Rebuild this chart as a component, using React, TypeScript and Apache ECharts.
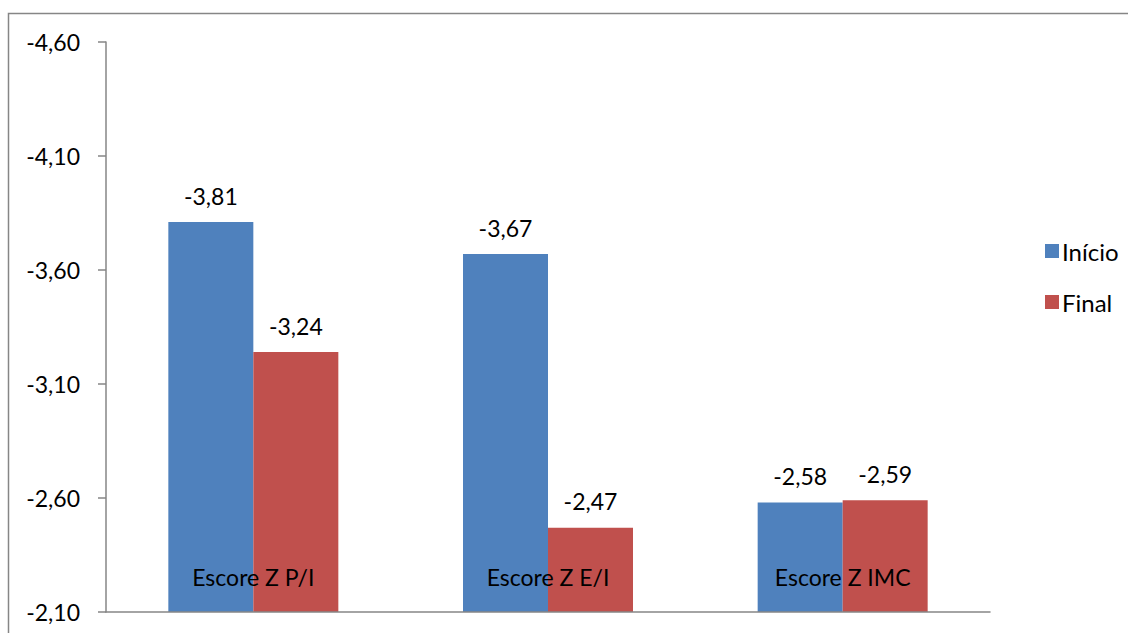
import React, { useEffect, useRef } from "react";
import * as echarts from "echarts";

const categories = ["Escore Z P/I", "Escore Z E/I", "Escore Z IMC"];
const inicio = [-3.81, -3.67, -2.58];
const final = [-3.24, -2.47, -2.59];
const seriesNames = ["Início", "Final"];
const yMin = -4.6;
const yMax = -2.1;
const yInterval = 0.5;

const FONT = "Lato";
const fmt = (v: number) => v.toFixed(2).replace(".", ",");

export default function App() {
  const ref = useRef<HTMLDivElement>(null);
  useEffect(() => {
    const chart = echarts.init(ref.current!, null, { renderer: "svg" });
    const barLabel = {
      show: true,
      position: "top",
      distance: 15,
      fontFamily: FONT,
      fontSize: 23,
      color: "#000",
      formatter: (p: any) => fmt(p.value),
    };
    chart.setOption({
      animation: false,
      backgroundColor: "#ffffff",
      textStyle: { fontFamily: FONT },
      graphic: [
        {
          type: "rect",
          shape: { x: 8.5, y: 13.5, width: 1200, height: 700 },
          style: { fill: "none", stroke: "#868686", lineWidth: 1.5 },
          silent: true,
        },
      ],
      grid: { left: 106, right: 138, top: 42, bottom: 21, containLabel: false },
      legend: {
        orient: "vertical",
        left: 1040,
        top: 234,
        itemWidth: 14,
        itemHeight: 14,
        itemGap: 27,
        icon: "rect",
        textStyle: { fontFamily: FONT, fontSize: 24, color: "#000", padding: [0, 0, 0, -2] },
        data: seriesNames,
      },
      xAxis: {
        type: "category",
        data: categories,
        axisLine: { lineStyle: { color: "#868686", width: 1.5 } },
        axisTick: { inside: true, length: 8, lineStyle: { color: "#868686", width: 1.5 } },
        axisLabel: {
          inside: true,
          margin: 24,
          fontFamily: FONT,
          fontSize: 23,
          color: "#000",
        },
        z: 10,
      },
      yAxis: {
        type: "value",
        inverse: true,
        min: yMin,
        max: yMax,
        interval: yInterval,
        axisLine: { show: true, lineStyle: { color: "#868686", width: 1.5 } },
        axisTick: { show: true, length: 8, lineStyle: { color: "#868686", width: 1.5 } },
        splitLine: { show: false },
        axisLabel: {
          margin: 26,
          fontFamily: FONT,
          fontSize: 23,
          color: "#000",
          formatter: (v: number) => fmt(v),
        },
      },
      series: [
        {
          name: seriesNames[0],
          type: "bar",
          data: inicio,
          barWidth: 85,
          barGap: "0%",
          itemStyle: { color: "#4F81BD" },
          label: barLabel,
        },
        {
          name: seriesNames[1],
          type: "bar",
          data: final,
          barWidth: 85,
          barGap: "0%",
          itemStyle: { color: "#C0504D" },
          label: barLabel,
        },
      ],
    });
    return () => chart.dispose();
  }, []);
  return (
    <div
      ref={ref}
      style={{ position: "fixed", left: 0, top: 0, width: 1128, height: 633 }}
    />
  );
}
